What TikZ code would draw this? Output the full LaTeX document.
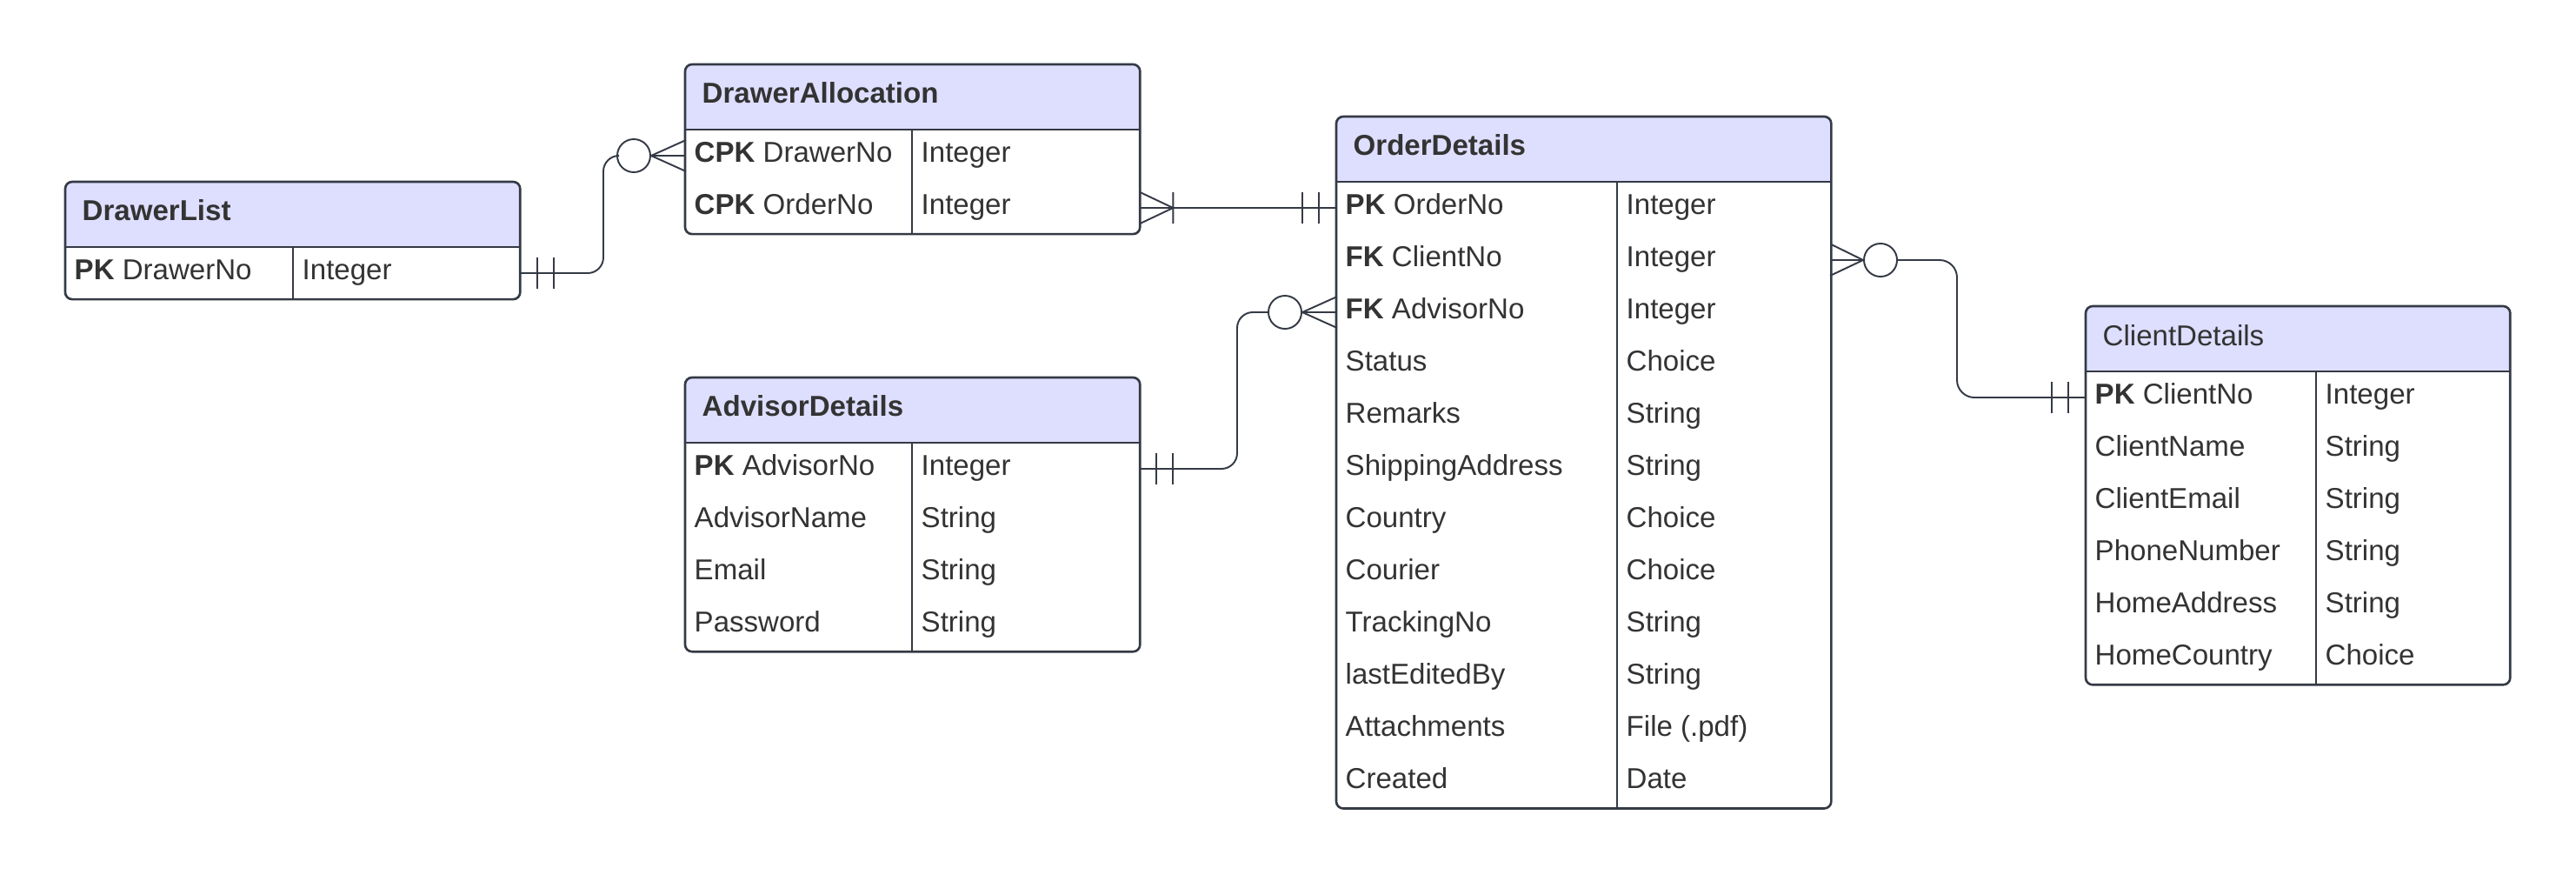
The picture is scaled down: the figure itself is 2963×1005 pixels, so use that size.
\documentclass[tikz,border=0pt]{standalone}
\usepackage{fontspec}
\setmainfont{Liberation Sans}

\definecolor{hdrfill}{HTML}{DEDEFF}
\definecolor{edge}{HTML}{343A45}
\definecolor{txt}{HTML}{333333}

\tikzset{
  entity/.style={anchor=north west, inner sep=0pt, outer sep=0pt},
  frame/.style={draw=edge, line width=0.75pt, rounded corners=0.08cm},
  sep/.style={draw=edge, line width=0.6pt},
  cell/.style={anchor=west, inner xsep=0pt, inner ysep=0pt, text=txt,
    text height=0.23cm, text depth=0.09cm, font=\fontsize{9.4}{11}\selectfont},
  title/.style={cell, font=\fontsize{9.4}{11}\selectfont\bfseries},
  rel/.style={draw=edge, line width=0.55pt},
  zero/.style={circle, draw=edge, line width=0.55pt, fill=white,
    minimum size=0.38cm, inner sep=0pt},
}

\begin{document}
\begin{tikzpicture}[x=0.01cm, y=-0.01cm]
  \useasboundingbox (0,0) rectangle (2963,1005);

  % DrawerList
  \node[entity, minimum width=5.23cm, minimum height=1.35cm] (dl) at (75,209) {};
  \fill[hdrfill, rounded corners=0.08cm] (dl.north west) ++(0,75) |- (dl.north east) -- ++(0,75);
  \draw[frame] (dl.north west) rectangle (dl.south east);
  \draw[sep] (75,284) -- (598,284) (337,284) -- (337,344);
  \path
    (94,246) node[title] (dlt) {DrawerList}
    (85,314) node[cell] (dl1) {\textbf{PK} DrawerNo}
    (347,314) node[cell] (dl1t) {Integer};

  % DrawerAllocation
  \node[entity, minimum width=5.23cm, minimum height=1.95cm] (da) at (788,74) {};
  \fill[hdrfill, rounded corners=0.08cm] (da.north west) ++(0,75) |- (da.north east) -- ++(0,75);
  \draw[frame] (da.north west) rectangle (da.south east);
  \draw[sep] (788,149) -- (1311,149) (1049,149) -- (1049,269);
  \path
    (807,111) node[title] (dat) {DrawerAllocation}
    (798,179) node[cell] (da1) {\textbf{CPK} DrawerNo}
    (1059,179) node[cell] (da1t) {Integer}
    (798,239) node[cell] (da2) {\textbf{CPK} OrderNo}
    (1059,239) node[cell] (da2t) {Integer};

  % AdvisorDetails
  \node[entity, minimum width=5.23cm, minimum height=3.15cm] (ad) at (788,434) {};
  \fill[hdrfill, rounded corners=0.08cm] (ad.north west) ++(0,75) |- (ad.north east) -- ++(0,75);
  \draw[frame] (ad.north west) rectangle (ad.south east);
  \draw[sep] (788,509) -- (1311,509) (1049,509) -- (1049,749);
  \path
    (807,471) node[title] (adt) {AdvisorDetails}
    (798,539) node[cell] (ad1) {\textbf{PK} AdvisorNo}
    (1059,539) node[cell] (ad1t) {Integer}
    (798,599) node[cell] (ad2) {AdvisorName}
    (1059,599) node[cell] (ad2t) {String}
    (798,659) node[cell] (ad3) {Email}
    (1059,659) node[cell] (ad3t) {String}
    (798,719) node[cell] (ad4) {Password}
    (1059,719) node[cell] (ad4t) {String};

  % OrderDetails
  \node[entity, minimum width=5.69cm, minimum height=7.95cm] (od) at (1537,134) {};
  \fill[hdrfill, rounded corners=0.08cm] (od.north west) ++(0,75) |- (od.north east) -- ++(0,75);
  \draw[frame] (od.north west) rectangle (od.south east);
  \draw[sep] (1537,209) -- (2106,209) (1860,209) -- (1860,929);
  \path
    (1556,171) node[title] (odt) {OrderDetails}
    (1547,239) node[cell] (od1) {\textbf{PK} OrderNo}
    (1870,239) node[cell] (od1t) {Integer}
    (1547,299) node[cell] (od2) {\textbf{FK} ClientNo}
    (1870,299) node[cell] (od2t) {Integer}
    (1547,359) node[cell] (od3) {\textbf{FK} AdvisorNo}
    (1870,359) node[cell] (od3t) {Integer}
    (1547,419) node[cell] (od4) {Status}
    (1870,419) node[cell] (od4t) {Choice}
    (1547,479) node[cell] (od5) {Remarks}
    (1870,479) node[cell] (od5t) {String}
    (1547,539) node[cell] (od6) {ShippingAddress}
    (1870,539) node[cell] (od6t) {String}
    (1547,599) node[cell] (od7) {Country}
    (1870,599) node[cell] (od7t) {Choice}
    (1547,659) node[cell] (od8) {Courier}
    (1870,659) node[cell] (od8t) {Choice}
    (1547,719) node[cell] (od9) {TrackingNo}
    (1870,719) node[cell] (od9t) {String}
    (1547,779) node[cell] (od10) {lastEditedBy}
    (1870,779) node[cell] (od10t) {String}
    (1547,839) node[cell] (od11) {Attachments}
    (1870,839) node[cell] (od11t) {File (.pdf)}
    (1547,899) node[cell] (od12) {Created}
    (1870,899) node[cell] (od12t) {Date};

  % ClientDetails
  \node[entity, minimum width=4.88cm, minimum height=4.35cm] (cd) at (2399,352) {};
  \fill[hdrfill, rounded corners=0.08cm] (cd.north west) ++(0,75) |- (cd.north east) -- ++(0,75);
  \draw[frame] (cd.north west) rectangle (cd.south east);
  \draw[sep] (2399,427) -- (2887,427) (2664,427) -- (2664,787);
  \path
    (2418,390) node[cell] (cdt) {ClientDetails}
    (2409,457) node[cell] (cd1) {\textbf{PK} ClientNo}
    (2674,457) node[cell] (cd1t) {Integer}
    (2409,517) node[cell] (cd2) {ClientName}
    (2674,517) node[cell] (cd2t) {String}
    (2409,577) node[cell] (cd3) {ClientEmail}
    (2674,577) node[cell] (cd3t) {String}
    (2409,637) node[cell] (cd4) {PhoneNumber}
    (2674,637) node[cell] (cd4t) {String}
    (2409,697) node[cell] (cd5) {HomeAddress}
    (2674,697) node[cell] (cd5t) {String}
    (2409,757) node[cell] (cd6) {HomeCountry}
    (2674,757) node[cell] (cd6t) {Choice};

  % DrawerList -> DrawerAllocation
  \node[zero] (z1) at (729,179) {};
  \draw[rel, rounded corners=0.18cm] (dl.east |- dl1) -- (694,314) |- (z1.west);
  \draw[rel] (dl.east |- dl1) ++(20,-18) -- ++(0,36) ++(19,0) -- ++(0,-36);
  \draw[rel] (z1.east) -- (da.west |- da1) (z1.east) -- ++(40,-18) (z1.east) -- ++(40,18);

  % DrawerAllocation -> OrderDetails
  \draw[rel] (da.east |- da2) -- (od.west |- od1);
  \draw[rel] (da.east |- da2) ++(0,-18) -- ++(38,18) -- ++(-38,18)
    (da.east |- da2) ++(38,-18) -- ++(0,36);
  \draw[rel] (od.west |- od1) ++(-20,-18) -- ++(0,36) ++(-19,0) -- ++(0,-36);

  % AdvisorDetails -> OrderDetails
  \node[zero] (z2) at (1478,359) {};
  \draw[rel, rounded corners=0.18cm] (ad.east |- ad1) -- (1423,539) |- (z2.west);
  \draw[rel] (ad.east |- ad1) ++(19,-18) -- ++(0,36) ++(19,0) -- ++(0,-36);
  \draw[rel] (z2.east) -- (od.west |- od3) (z2.east) -- ++(40,-18) (z2.east) -- ++(40,18);

  % OrderDetails -> ClientDetails
  \node[zero] (z3) at (2163,299) {};
  \draw[rel] (od.east |- od2) -- (z3.west) (od.east |- od2) ++(0,-18) -- (z3.west) -- ++(-38,18);
  \draw[rel, rounded corners=0.2cm] (z3.east) -- (2251,299) |- (cd.west |- cd1);
  \draw[rel] (cd.west |- cd1) ++(-20,-18) -- ++(0,36) ++(-19,0) -- ++(0,-36);
\end{tikzpicture}
\end{document}
